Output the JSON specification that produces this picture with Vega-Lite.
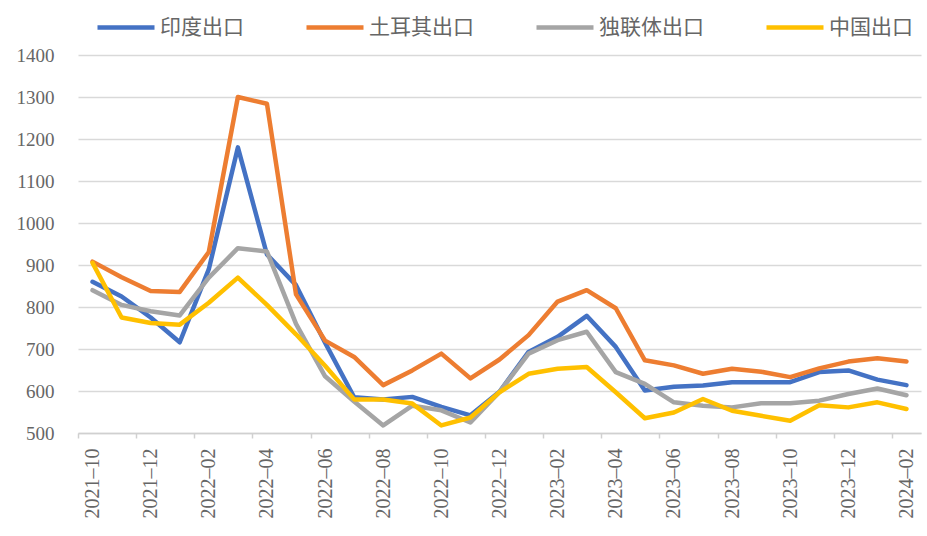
{
  "$schema": "https://vega.github.io/schema/vega-lite/v6.json",
  "width": 843,
  "height": 378,
  "autosize": {"type": "none"},
  "padding": {"left": 78, "top": 55, "right": 6, "bottom": 103},
  "background": "white",
  "config": {"view": {"stroke": null}},
  "datasets": {
    "exports": [
      {"month": "2021-10", "series": "印度出口", "value": 860},
      {"month": "2021-11", "series": "印度出口", "value": 825},
      {"month": "2021-12", "series": "印度出口", "value": 775},
      {"month": "2022-01", "series": "印度出口", "value": 716},
      {"month": "2022-02", "series": "印度出口", "value": 890},
      {"month": "2022-03", "series": "印度出口", "value": 1180},
      {"month": "2022-04", "series": "印度出口", "value": 925},
      {"month": "2022-05", "series": "印度出口", "value": 852},
      {"month": "2022-06", "series": "印度出口", "value": 715},
      {"month": "2022-07", "series": "印度出口", "value": 585},
      {"month": "2022-08", "series": "印度出口", "value": 580},
      {"month": "2022-09", "series": "印度出口", "value": 586},
      {"month": "2022-10", "series": "印度出口", "value": 562},
      {"month": "2022-11", "series": "印度出口", "value": 542},
      {"month": "2022-12", "series": "印度出口", "value": 598},
      {"month": "2023-01", "series": "印度出口", "value": 693},
      {"month": "2023-02", "series": "印度出口", "value": 729},
      {"month": "2023-03", "series": "印度出口", "value": 779},
      {"month": "2023-04", "series": "印度出口", "value": 705},
      {"month": "2023-05", "series": "印度出口", "value": 601},
      {"month": "2023-06", "series": "印度出口", "value": 610},
      {"month": "2023-07", "series": "印度出口", "value": 613},
      {"month": "2023-08", "series": "印度出口", "value": 621},
      {"month": "2023-09", "series": "印度出口", "value": 621},
      {"month": "2023-10", "series": "印度出口", "value": 621},
      {"month": "2023-11", "series": "印度出口", "value": 645},
      {"month": "2023-12", "series": "印度出口", "value": 649},
      {"month": "2024-01", "series": "印度出口", "value": 627},
      {"month": "2024-02", "series": "印度出口", "value": 614},

      {"month": "2021-10", "series": "土耳其出口", "value": 908},
      {"month": "2021-11", "series": "土耳其出口", "value": 871},
      {"month": "2021-12", "series": "土耳其出口", "value": 838},
      {"month": "2022-01", "series": "土耳其出口", "value": 836},
      {"month": "2022-02", "series": "土耳其出口", "value": 931},
      {"month": "2022-03", "series": "土耳其出口", "value": 1300},
      {"month": "2022-04", "series": "土耳其出口", "value": 1284},
      {"month": "2022-05", "series": "土耳其出口", "value": 830},
      {"month": "2022-06", "series": "土耳其出口", "value": 720},
      {"month": "2022-07", "series": "土耳其出口", "value": 681},
      {"month": "2022-08", "series": "土耳其出口", "value": 614},
      {"month": "2022-09", "series": "土耳其出口", "value": 649},
      {"month": "2022-10", "series": "土耳其出口", "value": 689},
      {"month": "2022-11", "series": "土耳其出口", "value": 630},
      {"month": "2022-12", "series": "土耳其出口", "value": 675},
      {"month": "2023-01", "series": "土耳其出口", "value": 733},
      {"month": "2023-02", "series": "土耳其出口", "value": 813},
      {"month": "2023-03", "series": "土耳其出口", "value": 840},
      {"month": "2023-04", "series": "土耳其出口", "value": 797},
      {"month": "2023-05", "series": "土耳其出口", "value": 673},
      {"month": "2023-06", "series": "土耳其出口", "value": 661},
      {"month": "2023-07", "series": "土耳其出口", "value": 641},
      {"month": "2023-08", "series": "土耳其出口", "value": 653},
      {"month": "2023-09", "series": "土耳其出口", "value": 646},
      {"month": "2023-10", "series": "土耳其出口", "value": 633},
      {"month": "2023-11", "series": "土耳其出口", "value": 654},
      {"month": "2023-12", "series": "土耳其出口", "value": 670},
      {"month": "2024-01", "series": "土耳其出口", "value": 678},
      {"month": "2024-02", "series": "土耳其出口", "value": 670},

      {"month": "2021-10", "series": "独联体出口", "value": 840},
      {"month": "2021-11", "series": "独联体出口", "value": 805},
      {"month": "2021-12", "series": "独联体出口", "value": 790},
      {"month": "2022-01", "series": "独联体出口", "value": 780},
      {"month": "2022-02", "series": "独联体出口", "value": 870},
      {"month": "2022-03", "series": "独联体出口", "value": 940},
      {"month": "2022-04", "series": "独联体出口", "value": 932},
      {"month": "2022-05", "series": "独联体出口", "value": 760},
      {"month": "2022-06", "series": "独联体出口", "value": 635},
      {"month": "2022-07", "series": "独联体出口", "value": 575},
      {"month": "2022-08", "series": "独联体出口", "value": 518},
      {"month": "2022-09", "series": "独联体出口", "value": 565},
      {"month": "2022-10", "series": "独联体出口", "value": 554},
      {"month": "2022-11", "series": "独联体出口", "value": 525},
      {"month": "2022-12", "series": "独联体出口", "value": 598},
      {"month": "2023-01", "series": "独联体出口", "value": 689},
      {"month": "2023-02", "series": "独联体出口", "value": 721},
      {"month": "2023-03", "series": "独联体出口", "value": 741},
      {"month": "2023-04", "series": "独联体出口", "value": 645},
      {"month": "2023-05", "series": "独联体出口", "value": 617},
      {"month": "2023-06", "series": "独联体出口", "value": 573},
      {"month": "2023-07", "series": "独联体出口", "value": 565},
      {"month": "2023-08", "series": "独联体出口", "value": 561},
      {"month": "2023-09", "series": "独联体出口", "value": 571},
      {"month": "2023-10", "series": "独联体出口", "value": 571},
      {"month": "2023-11", "series": "独联体出口", "value": 577},
      {"month": "2023-12", "series": "独联体出口", "value": 593},
      {"month": "2024-01", "series": "独联体出口", "value": 606},
      {"month": "2024-02", "series": "独联体出口", "value": 590},

      {"month": "2021-10", "series": "中国出口", "value": 905},
      {"month": "2021-11", "series": "中国出口", "value": 775},
      {"month": "2021-12", "series": "中国出口", "value": 762},
      {"month": "2022-01", "series": "中国出口", "value": 758},
      {"month": "2022-02", "series": "中国出口", "value": 810},
      {"month": "2022-03", "series": "中国出口", "value": 870},
      {"month": "2022-04", "series": "中国出口", "value": 805},
      {"month": "2022-05", "series": "中国出口", "value": 735},
      {"month": "2022-06", "series": "中国出口", "value": 660},
      {"month": "2022-07", "series": "中国出口", "value": 580},
      {"month": "2022-08", "series": "中国出口", "value": 580},
      {"month": "2022-09", "series": "中国出口", "value": 570},
      {"month": "2022-10", "series": "中国出口", "value": 518},
      {"month": "2022-11", "series": "中国出口", "value": 537},
      {"month": "2022-12", "series": "中国出口", "value": 597},
      {"month": "2023-01", "series": "中国出口", "value": 641},
      {"month": "2023-02", "series": "中国出口", "value": 653},
      {"month": "2023-03", "series": "中国出口", "value": 657},
      {"month": "2023-04", "series": "中国出口", "value": 597},
      {"month": "2023-05", "series": "中国出口", "value": 535},
      {"month": "2023-06", "series": "中国出口", "value": 549},
      {"month": "2023-07", "series": "中国出口", "value": 581},
      {"month": "2023-08", "series": "中国出口", "value": 553},
      {"month": "2023-09", "series": "中国出口", "value": 541},
      {"month": "2023-10", "series": "中国出口", "value": 529},
      {"month": "2023-11", "series": "中国出口", "value": 566},
      {"month": "2023-12", "series": "中国出口", "value": 561},
      {"month": "2024-01", "series": "中国出口", "value": 573},
      {"month": "2024-02", "series": "中国出口", "value": 557}
    ]
  },
  "data": {"name": "exports"},
  "mark": {"type": "line", "strokeWidth": 4.5, "strokeJoin": "round", "strokeCap": "round"},
  "encoding": {
    "x": {
      "field": "month",
      "type": "ordinal",
      "sort": null,
      "scale": {"type": "point", "padding": 0.5},
      "axis": {
        "title": null,
        "values": ["2021-10", "2021-12", "2022-02", "2022-04", "2022-06", "2022-08", "2022-10", "2022-12", "2023-02", "2023-04", "2023-06", "2023-08", "2023-10", "2023-12", "2024-02"],
        "labelExpr": "replace(datum.label, '-', '–')",
        "labelAngle": 270,
        "labelAlign": "right",
        "labelBaseline": "middle",
        "labelFont": "Liberation Serif",
        "labelFontSize": 20,
        "labelColor": "#666666",
        "labelPadding": 10,
        "tickOffset": -14.5,
        "labelOffset": 14.5,
        "ticks": true,
        "tickSize": 5,
        "tickColor": "#d0d0d0",
        "tickWidth": 1.5,
        "domain": true,
        "domainColor": "#d0d0d0",
        "domainWidth": 1.5,
        "grid": false
      }
    },
    "y": {
      "field": "value",
      "type": "quantitative",
      "scale": {"domain": [500, 1400], "nice": false, "zero": false},
      "axis": {
        "title": null,
        "format": "d",
        "values": [500, 600, 700, 800, 900, 1000, 1100, 1200, 1300, 1400],
        "grid": true,
        "gridColor": "#d9d9d9",
        "gridWidth": 1.5,
        "domain": false,
        "ticks": false,
        "labelFont": "Liberation Serif",
        "labelFontSize": 19,
        "labelColor": "#666666",
        "labelPadding": 24
      }
    },
    "color": {
      "field": "series",
      "type": "nominal",
      "sort": null,
      "scale": {
        "domain": ["印度出口", "土耳其出口", "独联体出口", "中国出口"],
        "range": ["#4472C4", "#ED7D31", "#A5A5A5", "#FFC000"]
      },
      "legend": {
        "title": null,
        "orient": "none",
        "legendX": 17,
        "legendY": -58.5,
        "direction": "horizontal",
        "symbolType": "stroke",
        "symbolSize": 3250,
        "symbolStrokeWidth": 4.5,
        "labelFont": "Noto Sans CJK SC",
        "labelFontSize": 21,
        "labelColor": "#666666",
        "labelOffset": 3,
        "labelLimit": 300,
        "columnPadding": 53,
        "padding": 0
      }
    }
  }
}
